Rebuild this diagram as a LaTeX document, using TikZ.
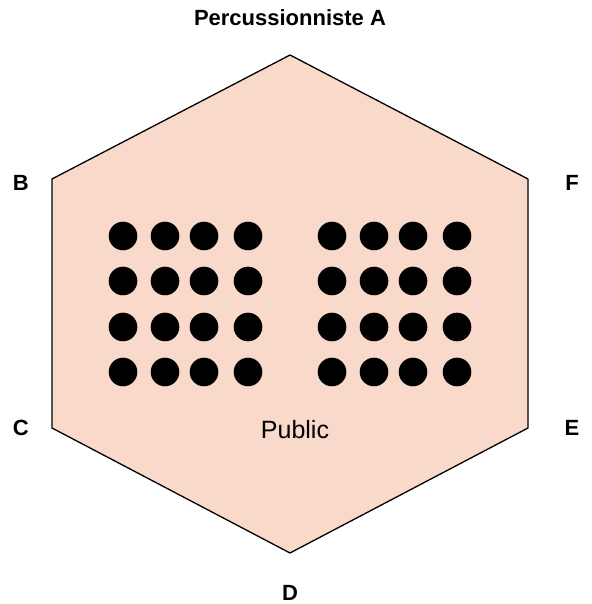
\documentclass[tikz,border=0pt]{standalone}
\usepackage{fontspec}
\setmainfont{Liberation Sans}
\usepackage{xcolor}
\usetikzlibrary{positioning}
\definecolor{peau}{RGB}{249,217,201}

\begin{document}
\begin{tikzpicture}[x=1pt,y=1pt,lab/.style={font=\fontsize{22}{26}\selectfont\bfseries,inner sep=0pt},pion/.style={circle,fill=black,inner sep=0pt,minimum size=28.6pt}]
\useasboundingbox (0,0) rectangle (591,604);
% scene (hexagone)
\coordinate (ha) at (290,549); \coordinate (hb) at (52,425); \coordinate (hc) at (52,176);
\coordinate (hd) at (290,51); \coordinate (he) at (528,176); \coordinate (hf) at (528,425);
\draw[fill=peau,line width=1.3pt,line join=miter] (ha)--(hb)--(hc)--(hd)--(he)--(hf)--cycle;
% public
\foreach \x in {123,165,204,248,332,374,413,457}
  \foreach \y in {368,323,277,232}
    \node[pion] (p-\x-\y) at (\x,\y) {};
\node[font=\fontsize{25}{30}\selectfont,inner sep=0pt] (pub) at (295,174) {Public};
% percussionnistes
\node[lab] (la) at (290,586) {Percussionniste A};
\node[lab] (lb) at (20.7,421) {B};
\node[lab] (lc) at (20.7,176) {C};
\node[lab] (ld) at (290,11) {D};
\node[lab] (le) at (572,176) {E};
\node[lab] (lf) at (572,421) {F};
\end{tikzpicture}
\end{document}
